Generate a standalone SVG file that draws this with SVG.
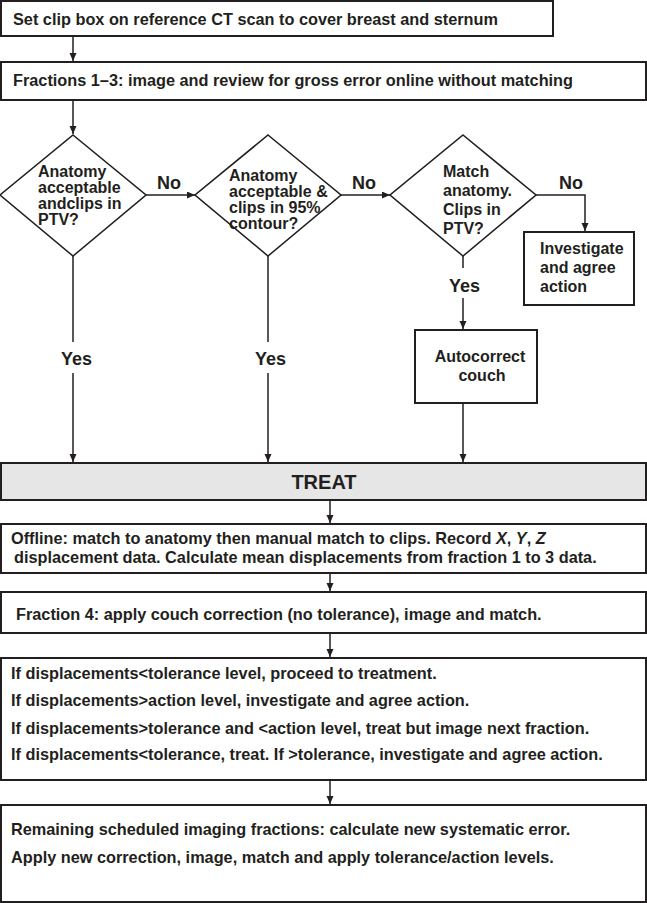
<svg xmlns="http://www.w3.org/2000/svg" width="647" height="903" viewBox="0 0 647 903">
<style>
text{font-family:"Liberation Sans",Arial,sans-serif;font-weight:bold;fill:#231f20;font-size:16px}
.bt{font-size:16.3px}
.box{fill:#fff;stroke:#231f20;stroke-width:2}
.treat{fill:#e6e6e6;stroke:#231f20;stroke-width:2}
.dia{fill:#fff;stroke:#231f20;stroke-width:1.6}
.c{fill:none;stroke:#231f20;stroke-width:1.5}
.lbl{font-size:18px}
.it{font-style:italic}
</style>
<defs>
<marker id="ah" markerUnits="userSpaceOnUse" markerWidth="9" markerHeight="8" refX="8" refY="3.5" orient="auto">
<path d="M0,0 L8,3.5 L0,7 z" fill="#231f20"/>
</marker>
</defs>
<g id="connectors">
<path class="c" d="M73,37 V61" marker-end="url(#ah)"/>
<path class="c" d="M73,101 V134" marker-end="url(#ah)"/>
<path class="c" d="M146,195 H195" marker-end="url(#ah)"/>
<path class="c" d="M341,195 H390" marker-end="url(#ah)"/>
<path class="c" d="M536,195 H585 V231" marker-end="url(#ah)"/>
<path class="c" d="M463,256 V268"/>
<path class="c" d="M463,298 V329" marker-end="url(#ah)"/>
<path class="c" d="M463,403 V462" marker-end="url(#ah)"/>
<path class="c" d="M73,256 V342"/>
<path class="c" d="M73,373 V462" marker-end="url(#ah)"/>
<path class="c" d="M268,256 V342"/>
<path class="c" d="M268,373 V462" marker-end="url(#ah)"/>
<path class="c" d="M330,501 V523" marker-end="url(#ah)"/>
<path class="c" d="M330,574 V591" marker-end="url(#ah)"/>
<path class="c" d="M330,634 V657" marker-end="url(#ah)"/>
<path class="c" d="M330,781 V804" marker-end="url(#ah)"/>
<text class="lbl" x="157" y="189">No</text>
<text class="lbl" x="352" y="189">No</text>
<text class="lbl" x="559" y="189">No</text>
<text class="lbl" x="61" y="365">Yes</text>
<text class="lbl" x="255" y="365">Yes</text>
<text class="lbl" x="449" y="292">Yes</text>
</g>
<g id="n1">
<rect class="box" x="1" y="1" width="552" height="35"/>
<text class="bt" x="13" y="25">Set clip box on reference CT scan to cover breast and sternum</text>
</g>
<g id="n2">
<rect class="box" x="1" y="62" width="645" height="38"/>
<text class="bt" x="13" y="86">Fractions 1–3: image and review for gross error online without matching</text>
</g>
<g id="d1">
<polygon class="dia" points="73,135 146,195 73,256 0,195"/>
<text x="38" y="177">Anatomy</text>
<text x="38" y="193">acceptable</text>
<text x="38" y="209">andclips in</text>
<text x="38" y="225">PTV?</text>
</g>
<g id="d2">
<polygon class="dia" points="268,135 341,195 268,256 195,195"/>
<text x="229" y="181">Anatomy</text>
<text x="229" y="197">acceptable &amp;</text>
<text x="229" y="213">clips in 95%</text>
<text x="229" y="229">contour?</text>
</g>
<g id="d3">
<polygon class="dia" points="463,135 536,195 463,256 390,195"/>
<text x="443" y="177">Match</text>
<text x="443" y="196">anatomy.</text>
<text x="443" y="215">Clips in</text>
<text x="443" y="234">PTV?</text>
</g>
<g id="n_investigate">
<rect class="box" x="524" y="232" width="110" height="73"/>
<text x="540" y="254">Investigate</text>
<text x="540" y="273">and agree</text>
<text x="540" y="292">action</text>
</g>
<g id="n_autocorrect">
<rect class="box" x="415" y="330" width="122" height="73"/>
<text x="480" y="362" text-anchor="middle">Autocorrect</text>
<text x="482" y="381" text-anchor="middle">couch</text>
</g>
<g id="n_treat">
<rect class="treat" x="1" y="463" width="645" height="37"/>
<text x="324" y="489" text-anchor="middle" style="font-size:20px">TREAT</text>
</g>
<g id="n_offline">
<rect class="box" x="1" y="524" width="645" height="49"/>
<text class="bt" x="11" y="544">Offline: match to anatomy then manual match to clips. Record <tspan class="it">X</tspan>, <tspan class="it">Y</tspan>, <tspan class="it">Z</tspan></text>
<text class="bt" x="14" y="563">displacement data. Calculate mean displacements from fraction 1 to 3 data.</text>
</g>
<g id="n_fraction4">
<rect class="box" x="1" y="592" width="645" height="41"/>
<text class="bt" x="16" y="620">Fraction 4: apply couch correction (no tolerance), image and match.</text>
</g>
<g id="n_rules">
<rect class="box" x="1" y="658" width="645" height="122"/>
<text class="bt" x="11" y="679">If displacements&lt;tolerance level, proceed to treatment.</text>
<text class="bt" x="11" y="706">If displacements&gt;action level, investigate and agree action.</text>
<text class="bt" x="11" y="734">If displacements&gt;tolerance and &lt;action level, treat but image next fraction.</text>
<text class="bt" x="11" y="760">If displacements&lt;tolerance, treat. If &gt;tolerance, investigate and agree action.</text>
</g>
<g id="n_remaining">
<rect class="box" x="1" y="805" width="645" height="97"/>
<text class="bt" x="11" y="835">Remaining scheduled imaging fractions: calculate new systematic error.</text>
<text class="bt" x="11" y="863">Apply new correction, image, match and apply tolerance/action levels.</text>
</g>
</svg>
